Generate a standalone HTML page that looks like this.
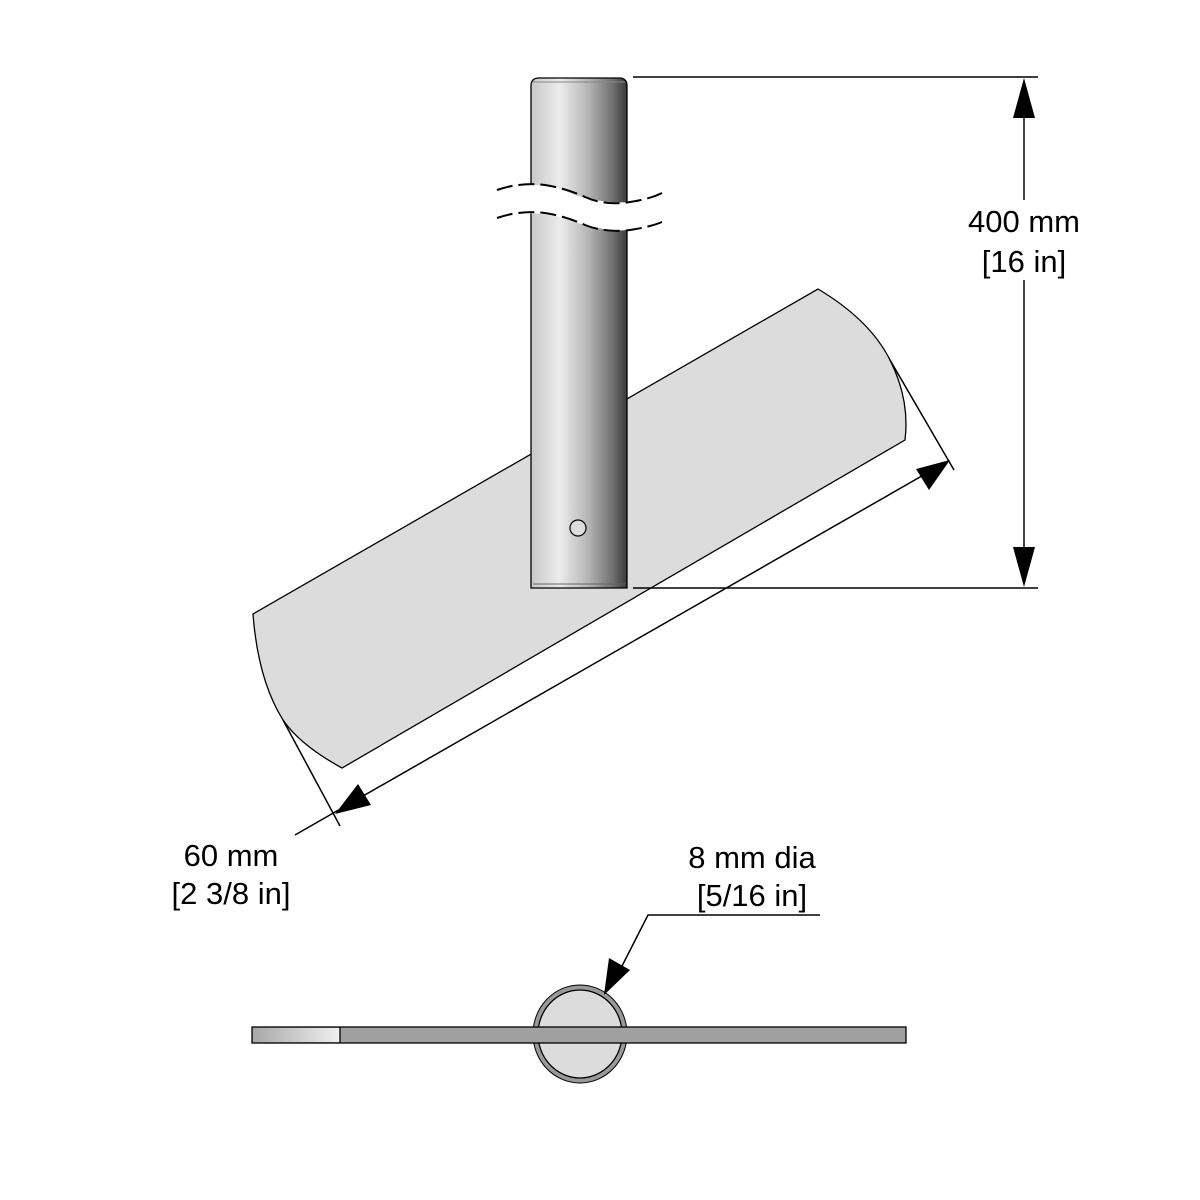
<!DOCTYPE html>
<html><head><style>body{margin:0;background:#fff}svg{display:block}</style></head><body>
<svg width="1200" height="1200" viewBox="0 0 1200 1200" xmlns="http://www.w3.org/2000/svg" font-family="Liberation Sans, Arial, sans-serif">
<defs>
<linearGradient id="rod" x1="0" x2="1" y1="0" y2="0">
<stop offset="0" stop-color="#c8c8c8"/><stop offset="0.3" stop-color="#ececec"/><stop offset="0.6" stop-color="#b4b4b4"/><stop offset="0.85" stop-color="#707070"/><stop offset="1" stop-color="#3a3a3a"/>
</linearGradient>
<linearGradient id="barl" x1="0" x2="1"><stop offset="0" stop-color="#a8a8a8"/><stop offset="1" stop-color="#f0f0f0"/></linearGradient>
</defs>
<path d="M253,614 L818,289 Q870,320 890,360 Q910,400 905,440 L342,768 Q300,745 283,720 Q258,680 253,614 Z" fill="#dcdcdc" stroke="#000" stroke-width="1.3"/>
<path d="M531,86 Q531,78 539,78 L619,78 Q627,78 627,86 L627,588 L531,588 Z" fill="url(#rod)" stroke="#000" stroke-width="1.3"/>
<line x1="533" y1="82" x2="625" y2="82" stroke="#888" stroke-width="1"/>
<line x1="533" y1="584" x2="625" y2="584" stroke="#666" stroke-width="1"/>
<circle cx="578" cy="528" r="8" fill="#ddd" stroke="#000" stroke-width="1.2"/>
<path d="M495,190 Q500,184 520,186 Q545,182 575,195 Q605,204 630,202 Q650,200 662,193 L662,222 Q650,229 630,230 Q605,232 575,222 Q545,211 520,214 Q500,212 495,218 Z" fill="#fff"/>
<path d="M497,190 Q520,182 545,185 Q565,188 585,197 Q605,206 630,202 Q650,199 662,193" fill="none" stroke="#000" stroke-width="2" stroke-dasharray="16,6"/>
<path d="M497,218 Q520,210 545,213 Q565,216 585,225 Q605,233 630,230 Q650,227 662,222" fill="none" stroke="#000" stroke-width="2" stroke-dasharray="16,6"/>
<g stroke="#000" stroke-width="1.5">
<line x1="633" y1="77" x2="1038" y2="77"/>
<line x1="633" y1="588" x2="1038" y2="588"/>
<line x1="1024" y1="110" x2="1024" y2="200"/>
<line x1="1024" y1="280" x2="1024" y2="555"/>
</g>
<polygon points="1024,78 1013,118 1035,118" fill="#000"/>
<polygon points="1024,587 1013,547 1035,547" fill="#000"/>
<text x="1024" y="232" font-size="31" text-anchor="middle">400 mm</text>
<text x="1024" y="272" font-size="31" text-anchor="middle">[16 in]</text>
<g stroke="#000" stroke-width="1.5">
<line x1="283" y1="720" x2="340" y2="826"/>
<line x1="890" y1="360" x2="954" y2="470"/>
<line x1="295" y1="835" x2="948" y2="461"/>
</g>
<polygon points="335,814 358,784 371,805" fill="#000"/>
<polygon points="950,460 916,469 929,490" fill="#000"/>
<text x="231" y="866" font-size="31" text-anchor="middle">60 mm</text>
<text x="231" y="904" font-size="31" text-anchor="middle">[2 3/8 in]</text>
<ellipse cx="580" cy="1034" rx="47" ry="49" fill="#999" stroke="#000" stroke-width="1"/>
<ellipse cx="580" cy="1034" rx="42" ry="44" fill="#dcdcdc" stroke="#000" stroke-width="1.3"/>
<rect x="252" y="1027" width="654" height="16" fill="#a0a0a0" stroke="#000" stroke-width="1.3"/>
<rect x="253" y="1028" width="87" height="14" fill="url(#barl)"/>
<line x1="340" y1="1027" x2="340" y2="1043" stroke="#000" stroke-width="1.3"/>
<polyline points="620,970 648,915 820,915" fill="none" stroke="#000" stroke-width="1.5"/>
<polygon points="604,995 609,958 630,970" fill="#000"/>
<text x="752" y="868" font-size="31" text-anchor="middle">8 mm dia</text>
<text x="752" y="906" font-size="31" text-anchor="middle">[5/16 in]</text>
</svg>
</body></html>
